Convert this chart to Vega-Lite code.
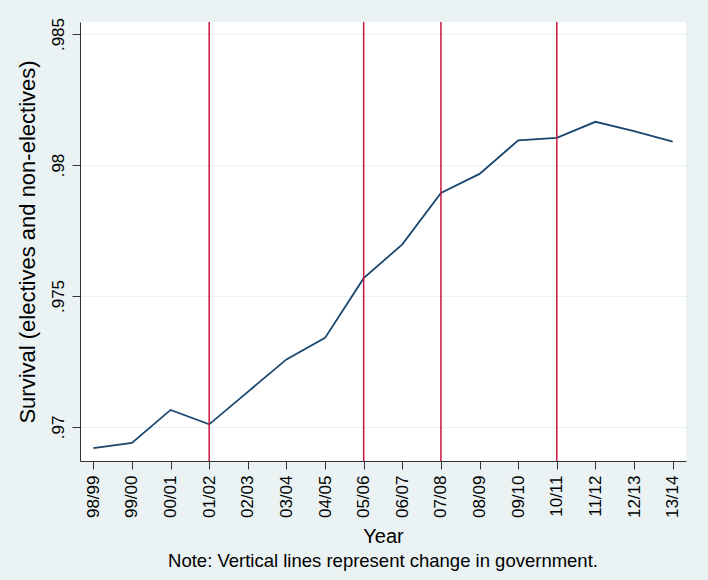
{
  "$schema": "https://vega.github.io/schema/vega-lite/v6.json",
  "autosize": {"type": "none"},
  "width": 606,
  "height": 439,
  "padding": {"left": 80, "top": 22, "right": 22, "bottom": 119},
  "background": "#eaf2f3",
  "config": {
    "font": "Liberation Sans",
    "view": {"fill": "white", "stroke": null}
  },
  "title": {
    "text": "Note: Vertical lines represent change in government.",
    "orient": "bottom",
    "anchor": "middle",
    "fontSize": 18.5,
    "fontWeight": "normal",
    "color": "#000000",
    "offset": 5
  },
  "datasets": {
    "survival": [
      {"year": "98/99", "value": 0.96919},
      {"year": "99/00", "value": 0.96939},
      {"year": "00/01", "value": 0.97065},
      {"year": "01/02", "value": 0.97010},
      {"year": "02/03", "value": 0.97134},
      {"year": "03/04", "value": 0.97258},
      {"year": "04/05", "value": 0.97340},
      {"year": "05/06", "value": 0.97568},
      {"year": "06/07", "value": 0.97697},
      {"year": "07/08", "value": 0.97893},
      {"year": "08/09", "value": 0.97966},
      {"year": "09/10", "value": 0.98094},
      {"year": "10/11", "value": 0.98104},
      {"year": "11/12", "value": 0.98165},
      {"year": "12/13", "value": 0.98129},
      {"year": "13/14", "value": 0.98089}
    ],
    "changes": [
      {"year": "01/02"},
      {"year": "05/06"},
      {"year": "07/08"},
      {"year": "10/11"}
    ]
  },
  "layer": [
    {
      "data": {"name": "survival"},
      "mark": {"type": "line", "color": "#1a476f", "strokeWidth": 1.8},
      "encoding": {
        "x": {
          "field": "year",
          "type": "ordinal",
          "sort": null,
          "scale": {"type": "point", "padding": 0.345},
          "axis": {
            "title": "Year",
            "titleFontSize": 20,
            "titleFontWeight": "normal",
            "titleColor": "#000000",
            "titlePadding": 9,
            "labelAngle": 270,
            "labelAlign": "right",
            "labelBaseline": "middle",
            "labelFontSize": 17,
            "labelColor": "#000000",
            "labelPadding": 6,
            "tickSize": 8,
            "tickColor": "#333333",
            "domainColor": "#333333",
            "grid": false
          }
        },
        "y": {
          "field": "value",
          "type": "quantitative",
          "scale": {"domain": [0.9687, 0.98546], "nice": false, "zero": false},
          "axis": {
            "title": "Survival (electives and non-electives)",
            "titleFontSize": 22,
            "titleFontWeight": "normal",
            "titleColor": "#000000",
            "titlePadding": 10,
            "values": [0.97, 0.975, 0.98, 0.985],
            "labelExpr": "replace(format(datum.value, '.3~f'), /^0/, '')",
            "labelAngle": 270,
            "labelAlign": "center",
            "labelBaseline": "bottom",
            "labelFontSize": 17,
            "labelColor": "#000000",
            "labelPadding": 5,
            "tickSize": 8,
            "tickColor": "#333333",
            "domainColor": "#333333",
            "grid": true,
            "gridColor": "#eaf2f3",
            "gridWidth": 1
          }
        }
      }
    },
    {
      "data": {"name": "changes"},
      "mark": {"type": "rule", "color": "#c8173f", "strokeWidth": 1.5},
      "encoding": {
        "x": {"field": "year", "type": "ordinal", "sort": null}
      }
    }
  ]
}
